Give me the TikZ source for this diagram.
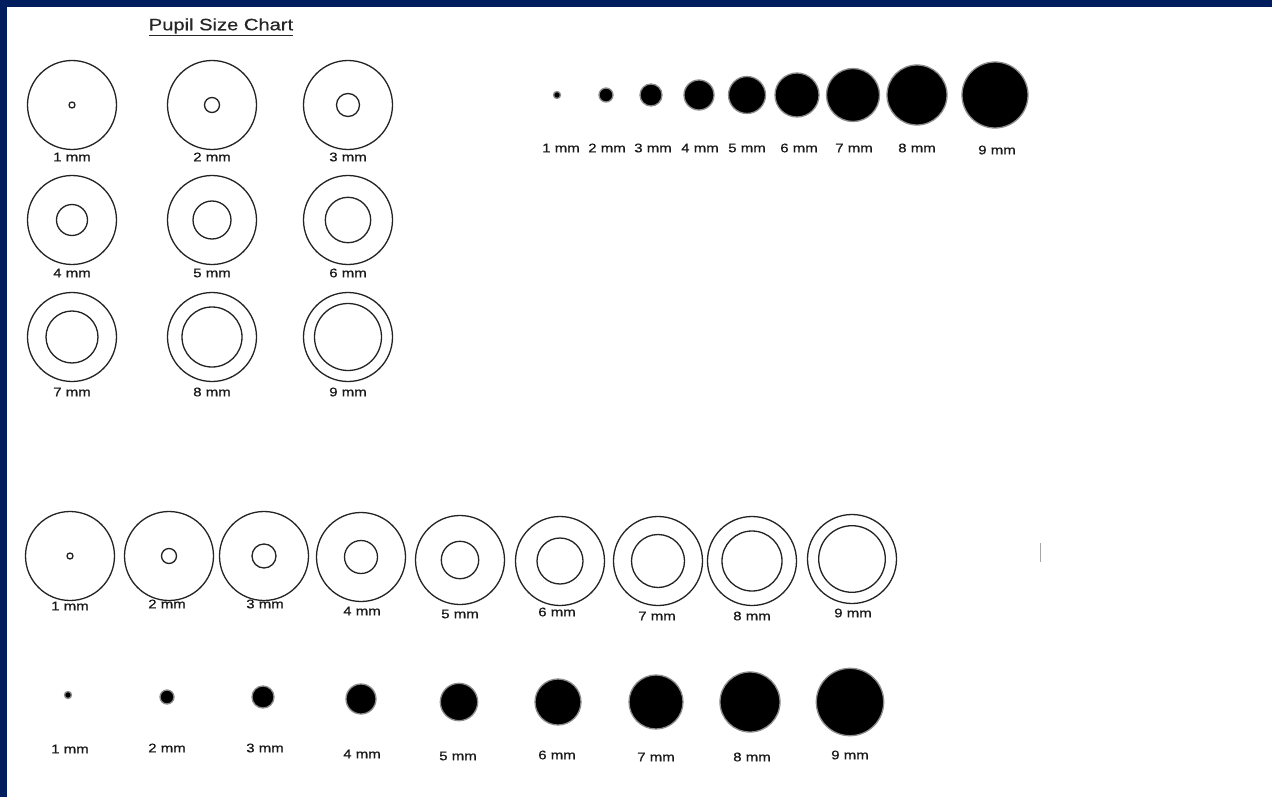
\documentclass[tikz,border=0pt]{standalone}
\usepackage{fontspec}
\newfontfamily\labfont[FakeStretch=1.2,FakeBold=0.6]{Liberation Sans}
\newfontfamily\titfont[FakeStretch=1.22,FakeBold=0.5]{Liberation Sans}
\definecolor{navy}{RGB}{0,30,94}
\definecolor{inkc}{RGB}{35,35,35}
\begin{document}
\begin{tikzpicture}[x=1pt,y=-1pt,
  ring/.style={draw=inkc, line width=1.3pt},
  dotfill/.style={fill=black},
  dotedge/.style={draw=black!45, line width=1.3pt},
  lab/.style={inner sep=0pt, font=\labfont\fontsize{12.5}{14}\selectfont, text=black!90},
  tit/.style={inner sep=0pt, font=\titfont\fontsize{16.5}{18}\selectfont, text=black!85}]
\useasboundingbox (0,0) rectangle (1272,797);
\fill[white] (0,0) rectangle (1272,797);
\fill[navy] (0,0) rectangle (1272,7);
\fill[navy] (0,0) rectangle (7,797);
% title
\node[tit] (title) at (221,27) {\underline{Pupil Size Chart}};
% top-left grid of rings
\foreach \x/\y/\r/\ly/\t [count=\i] in {
  72/105/3/157/1, 212/105/7.5/157/2, 348/105/11.5/157/3,
  72/220/15.5/273/4, 212/220/19/273/5, 348/220/22.7/273/6,
  72/337/26/392/7, 212/337/30/392/8, 348/337/33.5/392/9}{
  \draw[ring] (\x,\y) circle[radius=44.5];
  \draw[ring] (\x,\y) circle[radius=\r];
  \node[lab] (gl\i) at (\x,\ly) {\t\ mm};
}
% top-right row of dots
\foreach \x/\r/\lx/\ly/\t [count=\i] in {
  557/3.5/561/148/1, 606/7/607/148/2, 651/11/653/148/3,
  699/15/700/148/4, 747/18.5/747/148/5, 797/22/799/148/6,
  853/26.5/854/148/7, 917/30/917/148/8, 995/33/997/150/9}{
  \fill[dotfill] (\x,95) circle[radius=\r];
  \draw[dotedge] (\x,95) circle[radius=\r];
  \node[lab] (tl\i) at (\lx,\ly) {\t\ mm};
}
% bottom row of rings
\foreach \x/\y/\r/\lx/\ly/\t [count=\i] in {
  70/556/3/70/606/1, 169/556/7.5/167/604/2, 264/556/12/265/604/3,
  361/557/16.5/362/611/4, 460/560/18.7/460/614/5, 560/561/23/557/612/6,
  658/561/26.5/657/616/7, 752/561/30/752/616/8, 852/559/33.3/853/613/9}{
  \draw[ring] (\x,\y) circle[radius=44.5];
  \draw[ring] (\x,\y) circle[radius=\r];
  \node[lab] (bl\i) at (\lx,\ly) {\t\ mm};
}
% bottom row of dots
\foreach \x/\y/\r/\lx/\ly/\t [count=\i] in {
  68/695/3.5/70/749/1, 167/697/7/167/748/2, 263/697/11/265/748/3,
  361/699/15/362/754/4, 459/702/18.7/458/756/5, 558/702/23/557/755/6,
  656/702/27/656/757/7, 750/702/30/752/757/8, 850/702/33.7/850/755/9}{
  \fill[dotfill] (\x,\y) circle[radius=\r];
  \draw[dotedge] (\x,\y) circle[radius=\r];
  \node[lab] (dl\i) at (\lx,\ly) {\t\ mm};
}
% faint stray mark
\coordinate (m1) at (1040,543);
\coordinate (m2) at (1040,562);
\draw[black!35, line width=1pt] (m1) -- (m2);
\end{tikzpicture}
\end{document}
